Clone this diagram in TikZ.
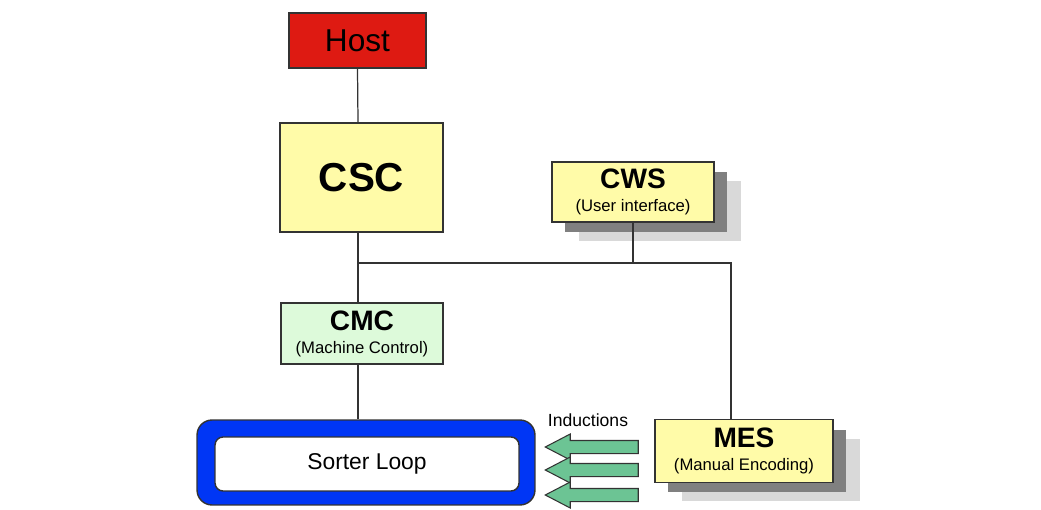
\documentclass[tikz,border=0pt]{standalone}
\usepackage{fontspec}
\setmainfont{Liberation Sans}
\usepackage{xcolor}
\usepackage{tikz}
\usetikzlibrary{shadows,shapes.arrows}
\definecolor{hostred}{HTML}{DE1A12}
\definecolor{paleyel}{HTML}{FFFBA8}
\definecolor{palegrn}{HTML}{DDFADA}
\definecolor{loopblue}{HTML}{0036F5}
\definecolor{indgrn}{HTML}{6CC494}
\definecolor{edge}{HTML}{333333}

\begin{document}
\begin{tikzpicture}[
  x=0.02cm, y=-0.02cm,
  box/.style={rectangle,draw=edge,line width=0.8pt,inner sep=0pt,align=center},
  shd/.style={
    general shadow={shadow xshift=0.54cm,shadow yshift=-0.38cm,fill=black!15},
    general shadow={shadow xshift=0.26cm,shadow yshift=-0.2cm,fill=black!50}},
  wire/.style={edge,line width=0.7pt},
  induct/.style={single arrow,shape border rotate=180,draw=edge,line width=0.6pt,
    fill=indgrn,minimum height=1.86cm,minimum width=0.5cm,inner sep=0.12cm,
    single arrow head extend=0.13cm,single arrow tip angle=55}
]
  \useasboundingbox (0,0) rectangle (1041,510);
  \node[box,fill=hostred,minimum width=2.74cm,minimum height=1.1cm,
        font=\fontsize{18}{20}\selectfont] (host) at (357.5,40.5) {Host};
  \node[box,fill=paleyel,minimum width=3.26cm,minimum height=2.18cm,
        font=\fontsize{23}{25}\selectfont\bfseries] (csc) at (361.5,177.5) {CSC};
  \node[box,shd,fill=paleyel,minimum width=3.24cm,minimum height=1.2cm] (cws) at (633,192)
    {{\fontsize{16}{17}\selectfont\bfseries CWS}\\[1pt]{\fontsize{9.5}{11}\selectfont (User interface)}};
  \node[box,fill=palegrn,minimum width=3.24cm,minimum height=1.22cm] (cmc) at (362,333.5)
    {{\fontsize{16}{17}\selectfont\bfseries CMC}\\[1pt]{\fontsize{9.5}{11}\selectfont (Machine Control)}};
  \node[box,shd,fill=paleyel,minimum width=3.56cm,minimum height=1.26cm] (mes) at (744,451)
    {{\fontsize{16}{17}\selectfont\bfseries MES}\\[1pt]{\fontsize{9.5}{11}\selectfont (Manual Encoding)}};
  % sorter loop: blue frame with white track inside
  \node[box,fill=loopblue,rounded corners=0.3cm,minimum width=6.76cm,minimum height=1.7cm] (frame) at (366,462.5) {};
  \node[box,fill=white,rounded corners=0.16cm,minimum width=6.08cm,minimum height=1.08cm,
        font=\fontsize{13}{15}\selectfont] (loop) at (367,464) {Sorter Loop};
  % inductions feeding the loop
  \node[font=\fontsize{10}{12}\selectfont] (indlbl) at (588,420) {Inductions};
  \node[induct] (ind1) at (598,447) {};
  \node[induct] (ind2) at (598,470) {};
  \node[induct] (ind3) at (598,495) {};
  % wiring
  \coordinate (spine) at (358,263);
  \coordinate (bus) at (731,263);
  \draw[wire] (host.south) -- (spine |- csc.north);
  \draw[wire] (spine |- csc.south) -- (spine) -- (bus) -- (bus |- mes.north);
  \draw[wire] (cws.south) -- (cws.south |- spine);
  \draw[wire] (spine) -- (spine |- cmc.north);
  \draw[wire] (spine |- cmc.south) -- (spine |- frame.north);
\end{tikzpicture}
\end{document}
